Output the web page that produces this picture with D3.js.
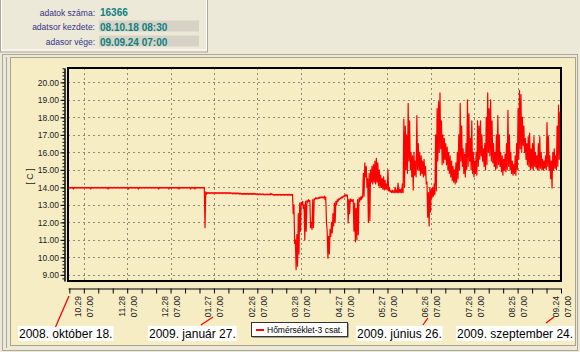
<!DOCTYPE html>
<html>
<head>
<meta charset="utf-8">
<script src="https://cdn.jsdelivr.net/npm/d3@7"></script>
<style>
  body { margin: 0; background: #ECE9D8; }
  svg { display: block; font-family: "Liberation Sans", Arial, sans-serif; }
</style>
</head>
<body>
<svg id="chart" width="580" height="352"></svg>
<script>
// --- data ---
const infoLabels = ["adatok száma:", "adatsor kezdete:", "adasor vége:"];
const infoValues = ["16366", "08.10.18 08:30", "09.09.24 07:00"];

const startTime = new Date(2008, 9, 18, 8, 30);
const endTime = new Date(2009, 8, 24, 7, 0);
const firstTick = new Date(2008, 9, 19, 7, 0);

const tickLabels = ["10.29", "11.28", "12.28", "01.27", "02.26", "03.28",
                    "04.27", "05.27", "06.26", "07.26", "08.25", "09.24"];
const tickTime = "07.00";
const yTicks = [9, 10, 11, 12, 13, 14, 15, 16, 17, 18, 19, 20];
const seriesName = "Hőmérséklet-3 csat.";
const yTitle = "[ C ]";

const noteTexts = ["2008. október 18.", "2009. január 27.", "2009. június 26.", "2009. szeptember 24."];
const noteDates = [new Date(2008, 9, 18, 8, 30), new Date(2009, 0, 27, 7, 0),
                   new Date(2009, 5, 26, 7, 0), new Date(2009, 8, 24, 7, 0)];

// daily max / min temperature, one entry per day from 2008.10.18
const tempHigh = [
  14.0,14.0,14.0,14.0,14.0,14.0,14.0,14.0,14.0,14.0,
  14.0,14.0,14.0,14.0,14.0,14.0,14.0,14.0,14.0,14.0,
  14.0,14.0,14.0,14.0,14.0,14.0,14.0,14.0,14.0,14.0,
  14.0,14.0,14.0,14.0,14.0,14.0,14.0,14.0,14.0,14.0,
  14.0,14.0,14.0,14.0,14.0,14.0,14.0,14.0,14.0,14.0,
  14.0,14.0,14.0,14.0,14.0,14.0,14.0,14.0,14.0,14.0,
  14.0,14.0,14.0,14.0,14.0,14.0,14.0,14.0,14.0,14.0,
  14.0,14.0,14.0,14.0,14.0,14.0,14.0,14.0,14.0,14.0,
  14.0,14.0,14.0,14.0,14.0,14.0,14.0,14.0,14.0,14.0,
  14.0,14.0,14.0,14.0,14.0,13.75,13.7,13.7,13.7,13.7,
  13.7,13.7,13.7,13.7,13.7,13.7,13.7,13.7,13.7,13.7,
  13.7,13.7,13.7,13.68,13.68,13.68,13.68,13.68,13.67,13.67,
  13.65,13.65,13.65,13.65,13.65,13.65,13.65,13.65,13.65,13.65,
  13.63,13.63,13.63,13.63,13.63,13.62,13.62,13.62,13.62,13.62,
  13.66,13.62,13.6,13.6,13.6,13.6,13.6,13.6,13.6,13.6,
  13.6,13.6,13.6,13.6,13.6,13.6,13.0,11.0,11.3,12.5,
  13.1,13.15,13.2,13.0,13.2,13.25,13.3,13.25,12.0,13.3,
  13.35,13.4,13.4,13.42,13.45,13.45,13.45,13.5,13.45,11.5,
  11.2,11.6,12.0,12.5,13.1,13.2,13.3,13.35,13.4,13.45,
  13.5,13.55,13.6,13.55,13.3,13.35,13.3,13.3,13.1,12.8,
  13.3,13.4,13.45,13.5,14.8,15.4,15.2,14.5,14.8,15.0,
  15.2,15.3,15.5,15.66,15.4,15.0,14.7,14.5,14.6,14.4,
  14.2,15.0,14.0,13.8,13.85,13.8,14.0,13.85,14.25,13.9,
  13.9,14.2,17.9,17.5,17.0,18.8,17.8,16.0,15.8,16.0,
  15.5,18.1,16.5,16.0,15.8,15.5,15.6,15.2,14.3,13.7,
  14.0,13.9,14.0,14.2,17.0,18.5,18.9,19.4,17.8,17.0,
  16.8,16.5,16.3,16.0,15.8,15.5,15.2,15.0,15.4,16.0,
  17.0,18.8,17.5,16.2,15.9,16.5,19.0,18.2,16.8,17.8,
  16.0,15.5,16.0,17.8,17.5,17.8,17.0,16.2,16.5,18.0,
  19.4,18.5,19.0,17.8,16.5,16.0,17.0,18.1,17.0,16.0,
  15.8,15.6,15.9,16.5,18.4,17.0,16.0,15.5,15.3,15.8,
  16.5,18.5,19.55,19.3,18.0,17.5,16.8,16.5,16.9,17.1,
  16.2,16.5,16.9,16.0,15.8,16.5,16.9,16.0,15.6,15.5,
  15.8,17.7,16.9,15.8,15.5,16.0,16.2,15.8,17.5,18.7,18.3
];
const tempLow = [
  13.95,13.95,13.95,13.9,13.95,13.95,13.95,13.95,13.95,13.95,
  13.95,13.95,13.95,13.95,13.95,13.9,13.95,13.95,13.95,13.95,
  13.95,13.95,13.95,13.95,13.95,13.95,13.95,13.9,13.95,13.95,
  13.95,13.95,13.95,13.95,13.95,13.95,13.95,13.95,13.95,13.95,
  13.95,13.9,13.95,13.95,13.95,13.95,13.95,13.95,13.9,13.95,
  13.95,13.95,13.95,13.95,13.95,13.95,13.95,13.95,13.95,13.95,
  13.95,13.95,13.9,13.95,13.95,13.95,13.95,13.95,13.95,13.9,
  13.95,13.95,13.95,13.95,13.95,13.95,13.9,13.95,13.95,13.95,
  13.95,13.95,13.95,13.95,13.9,13.95,13.95,13.9,13.95,13.95,
  13.95,13.95,13.95,13.95,11.7,13.6,13.65,13.65,13.65,13.65,
  13.65,13.65,13.65,13.65,13.65,13.65,13.65,13.65,13.65,13.65,
  13.65,13.65,13.65,13.63,13.63,13.63,13.63,13.63,13.62,13.62,
  13.6,13.6,13.6,13.6,13.6,13.6,13.6,13.6,13.6,13.6,
  13.58,13.58,13.58,13.58,13.58,13.57,13.57,13.57,13.57,13.57,
  13.6,13.57,13.55,13.55,13.55,13.55,13.55,13.55,13.55,13.55,
  13.55,13.55,13.55,13.55,13.55,12.5,10.8,9.3,9.5,10.2,
  11.5,13.0,12.8,11.0,11.5,13.15,13.2,11.7,11.6,11.7,
  13.3,13.35,13.35,13.37,13.4,13.4,13.4,13.3,12.0,9.95,
  10.2,11.2,11.4,11.8,12.0,13.0,13.2,13.3,13.35,13.4,
  13.45,13.5,13.5,11.96,12.5,13.2,13.2,11.5,10.9,11.0,
  11.3,13.2,13.3,13.4,13.5,14.6,14.0,12.0,12.1,14.3,
  14.2,14.3,14.2,14.3,14.1,14.0,14.0,13.9,13.85,13.9,
  13.85,13.8,13.75,13.7,13.7,13.7,13.7,13.7,13.7,13.7,
  13.7,13.7,14.0,15.0,14.8,15.5,15.0,14.6,13.85,14.7,
  14.6,15.0,15.0,14.7,14.8,14.6,14.7,14.2,12.3,11.8,
  12.6,13.4,13.5,13.6,13.8,15.5,16.0,16.2,15.3,15.4,
  15.6,15.3,15.0,14.8,14.6,14.4,14.3,14.2,14.3,14.5,
  15.0,15.5,15.2,14.8,14.6,15.0,15.2,15.5,15.0,14.8,
  14.6,14.8,14.7,15.2,15.6,15.8,15.5,15.2,15.0,15.3,
  16.0,15.8,15.5,15.4,15.2,15.0,15.1,15.3,15.2,14.9,
  14.7,15.0,14.9,15.0,15.2,15.0,14.8,14.7,14.8,14.7,
  15.0,15.6,16.2,16.0,16.4,16.0,15.6,15.3,15.2,15.0,
  15.1,15.0,15.2,15.1,15.0,15.0,15.1,15.0,15.0,15.1,
  15.0,15.2,15.0,14.5,13.96,15.0,15.1,15.0,15.2,15.6,15.8
];

// --- layout ---
const cream = "#F6EDC4";
const plot = { left: 68, top: 68, right: 561, bottom: 281 };
const noteLeft = [18, 148, 356, 456];       // left edge of the date boxes
const noteLead = [[1, 296, 55.5, 327], [-1, 317, 201, 325], [-3, 318, 423, 325], [-7, 317, 546, 323]];

const svg = d3.select("#chart");

// info panel
svg.append("rect").attr("x", 0.5).attr("y", -1).attr("width", 207).attr("height", 53)
  .attr("fill", "#ECE9D8").attr("stroke", "#ACA899");
svg.append("rect").attr("x", 1.5).attr("y", -1).attr("width", 205).attr("height", 51)
  .attr("fill", "none").attr("stroke", "#fff");

const rowY = [15.5, 30, 45];
[1, 2].forEach(i => {
  svg.append("rect").attr("x", 99).attr("y", rowY[i] - 9.5).attr("width", 100).attr("height", 11)
    .attr("fill", "#D6D2C6");
});
infoLabels.forEach((t, i) => {
  svg.append("text").attr("x", 95).attr("y", rowY[i]).attr("text-anchor", "end")
    .attr("font-size", 8.5).attr("fill", "#34348a").text(t);
  svg.append("text").attr("x", 100).attr("y", rowY[i] + 0.5)
    .attr("font-size", 10).attr("font-weight", "bold").attr("fill", "#0e8080").text(infoValues[i]);
});

// chart panel
svg.append("rect").attr("x", 2.5).attr("y", 54.5).attr("width", 575).attr("height", 296)
  .attr("fill", "#ECE9D8").attr("stroke", "#ACA899");
svg.append("line").attr("x1", 6.5).attr("x2", 6.5).attr("y1", 57).attr("y2", 348).attr("stroke", "#ACA899");
svg.append("rect").attr("x", 10.5).attr("y", 57.5).attr("width", 565).attr("height", 288)
  .attr("fill", cream).attr("stroke", "#A9A28C");

// scales
const x = d3.scaleTime().domain([startTime, endTime]).range([plot.left, plot.right]);
const y = d3.scaleLinear().domain([8.65, 20.82]).range([plot.bottom, plot.top]);

const tickDates = d3.range(0, 35).map(i => d3.timeDay.offset(firstTick, i * 10));
const labelDates = tickDates.filter((d, i) => i % 3 === 1);

// grid
const grid = svg.append("g").attr("stroke", "#8f8a78").attr("stroke-dasharray", "2,3");
grid.selectAll(".h").data(yTicks).enter().append("line")
  .attr("x1", plot.left).attr("x2", plot.right)
  .attr("y1", d => Math.round(y(d)) + 0.5).attr("y2", d => Math.round(y(d)) + 0.5);
grid.selectAll(".v").data(labelDates).enter().append("line")
  .attr("y1", plot.top).attr("y2", plot.bottom)
  .attr("x1", d => Math.round(x(d)) + 0.5).attr("x2", d => Math.round(x(d)) + 0.5);

// series: daily high / low zig-zag
const points = [];
tempHigh.forEach((h, i) => {
  points.push([new Date(startTime.getTime() + (i + 0.25) * 864e5), h]);
  points.push([new Date(startTime.getTime() + (i + 0.75) * 864e5), tempLow[i]]);
});
svg.append("clipPath").attr("id", "clip").append("rect")
  .attr("x", plot.left).attr("y", plot.top)
  .attr("width", plot.right - plot.left).attr("height", plot.bottom - plot.top);
svg.append("path").datum(points)
  .attr("clip-path", "url(#clip)")
  .attr("fill", "none").attr("stroke", "#ff0000").attr("stroke-width", 1.2)
  .attr("stroke-linejoin", "round")
  .attr("d", d3.line().x(d => x(d[0])).y(d => y(d[1])));

// plot border
svg.append("rect").attr("x", plot.left).attr("y", plot.top)
  .attr("width", plot.right - plot.left).attr("height", plot.bottom - plot.top)
  .attr("fill", "none").attr("stroke", "#000").attr("stroke-width", 2);

// y axis
const yAxisG = svg.append("g").attr("transform", "translate(64.5,0)");
yAxisG.call(d3.axisLeft(y).tickValues(d3.range(8.8, 20.81, 0.2)).tickSize(2).tickSizeOuter(0).tickFormat(""));
yAxisG.append("g").call(d3.axisLeft(y).tickValues(yTicks).tickSize(4).tickPadding(1.5)
  .tickSizeOuter(0).tickFormat(d3.format(".2f")));
yAxisG.selectAll("text").attr("font-family", "Liberation Sans, Arial, sans-serif")
  .attr("font-size", 8.5).attr("fill", "#222");
yAxisG.selectAll("path, line").attr("stroke", "#000");

svg.append("text").attr("transform", "translate(33,176.5) rotate(-90)")
  .attr("text-anchor", "middle").attr("font-size", 9).attr("fill", "#222").text(yTitle);

// x axis
const xAxisG = svg.append("g").attr("transform", "translate(0,288.5)")
  .call(d3.axisBottom(x).tickValues(tickDates).tickSize(5).tickSizeOuter(0).tickFormat(""));
xAxisG.selectAll("path, line").attr("stroke", "#000");

labelDates.forEach((d, i) => {
  const g = svg.append("g").attr("transform", `translate(${x(d)},296) rotate(-90)`)
    .attr("font-size", 8.5).attr("fill", "#222").attr("text-anchor", "end");
  g.append("text").attr("y", -2.5).text(tickLabels[i]);
  g.append("text").attr("y", 9.5).text(tickTime);
});

// date notes
noteTexts.forEach((t, i) => {
  const txt = svg.append("text").attr("x", noteLeft[i] + 1).attr("y", 338)
    .attr("font-size", 12).attr("fill", "#000").text(t);
  const w = txt.node().getComputedTextLength();
  svg.insert("rect", () => txt.node()).attr("x", noteLeft[i]).attr("y", 326)
    .attr("width", w + 2).attr("height", 15).attr("fill", "#fff");
  const ld = noteLead[i];
  svg.append("line").attr("x1", x(noteDates[i]) + ld[0]).attr("y1", ld[1])
    .attr("x2", ld[2]).attr("y2", ld[3]).attr("stroke", "#ff0000").attr("stroke-width", 1.3);
});

// legend
svg.append("rect").attr("x", 252.5).attr("y", 323.5).attr("width", 96).attr("height", 14).attr("fill", "#555");
svg.append("rect").attr("x", 251.5).attr("y", 322.5).attr("width", 96).attr("height", 14)
  .attr("fill", "#fff").attr("stroke", "#333");
svg.append("line").attr("x1", 256).attr("x2", 264).attr("y1", 330).attr("y2", 330)
  .attr("stroke", "#ff0000").attr("stroke-width", 2);
svg.append("text").attr("x", 267).attr("y", 333).attr("font-size", 8.5).attr("fill", "#000").text(seriesName);
</script>
</body>
</html>
